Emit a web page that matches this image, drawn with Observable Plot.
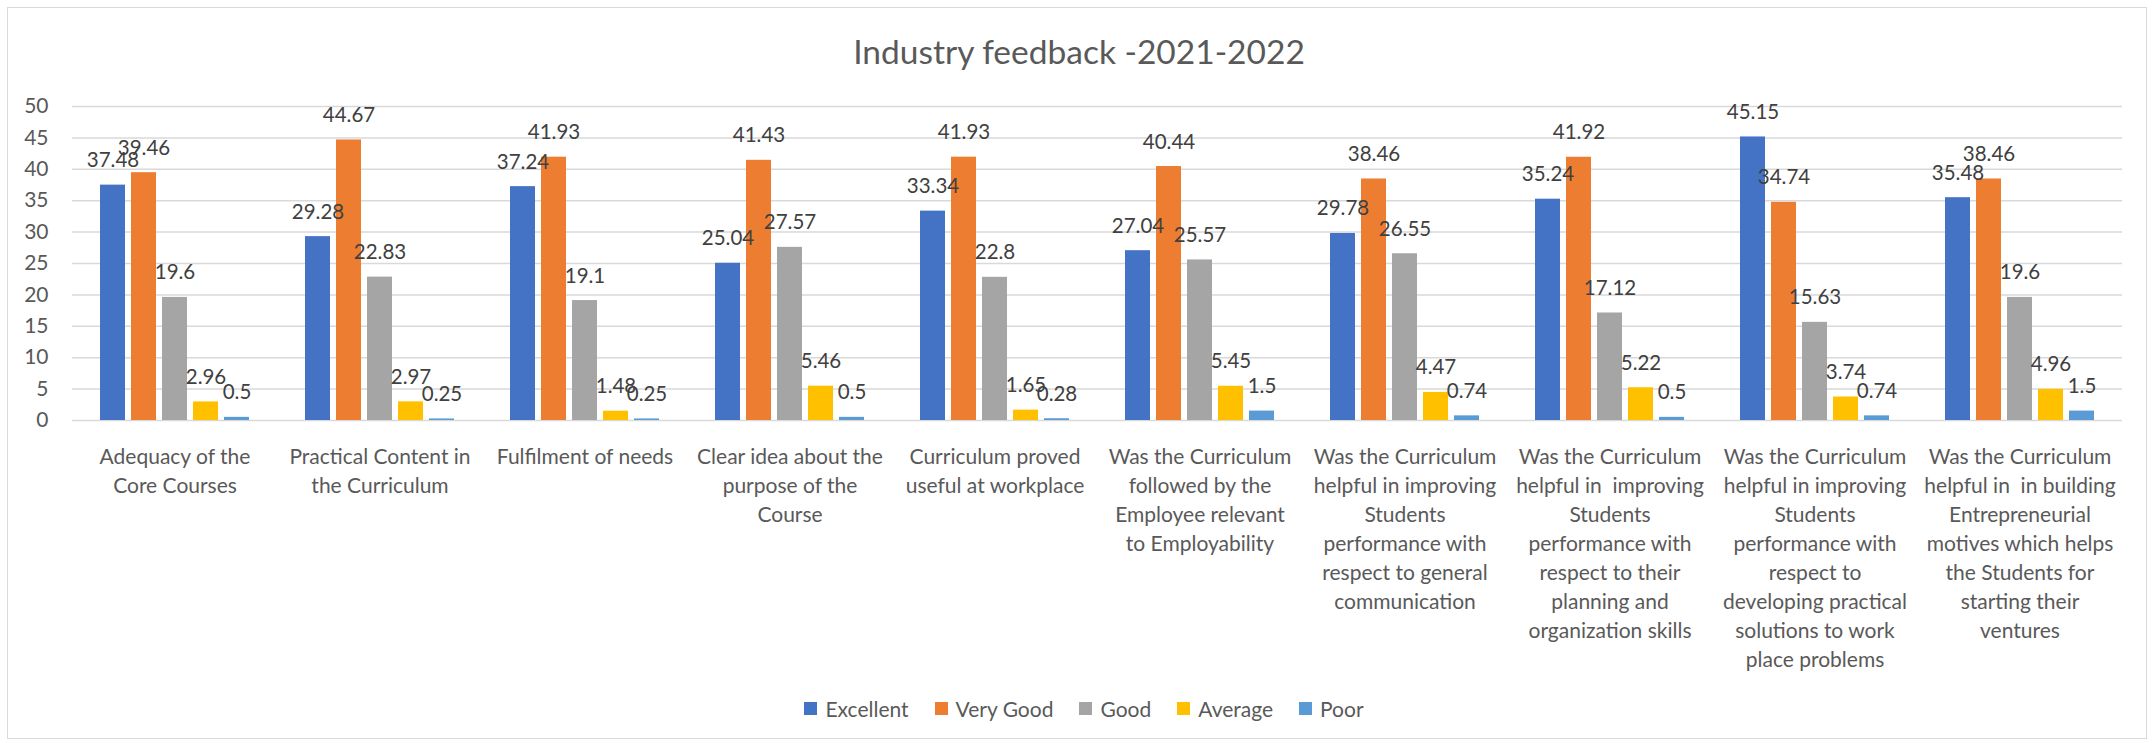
<!DOCTYPE html>
<html>
<head>
<meta charset="utf-8">
<script src="https://cdn.jsdelivr.net/npm/d3@7"></script>
<script src="https://cdn.jsdelivr.net/npm/@observablehq/plot@0.6"></script>
<style>
  html, body { margin: 0; padding: 0; background: #fff; }
  body { width: 2154px; height: 743px; position: relative; overflow: hidden; font-family: Lato, "Open Sans", sans-serif; }
  #frame { position: absolute; left: 7px; top: 7px; width: 2140px; height: 732px; box-sizing: border-box; border: 1.5px solid #d9d9d9; }
  #title { position: absolute; left: 0; top: 31px; width: 2158px; height: 40px; line-height: 40px; text-align: center; font-size: 33.5px; color: #595959; white-space: nowrap; }
  #chart { position: absolute; left: 0; top: 80px; }
  #legend { position: absolute; left: 0; top: 696px; width: 2168px; display: flex; justify-content: center; align-items: center; font-size: 21px; color: #595959; }
  .item { display: flex; align-items: center; margin: 0 13px; }
  .sw { width: 13px; height: 13px; margin-right: 8px; }
</style>
</head>
<body>
<div id="frame"></div>
<div id="title">Industry feedback -2021-2022</div>
<div id="chart"></div>
<div id="legend"></div>
<script>
// ---- data ----
const categories = [
  "Adequacy of the Core Courses",
  "Practical Content in the Curriculum",
  "Fulfilment of needs",
  "Clear idea about the purpose of the Course",
  "Curriculum proved useful at workplace",
  "Was the Curriculum followed by the Employee relevant to Employability",
  "Was the Curriculum helpful in improving Students performance with respect to general communication",
  "Was the Curriculum helpful in  improving Students performance with respect to their planning and organization skills",
  "Was the Curriculum helpful in improving Students performance with respect to developing practical solutions to work place problems",
  "Was the Curriculum helpful in  in building Entrepreneurial motives which helps the Students for starting their ventures"
];
const categoryLabels = [
  "Adequacy of the\nCore Courses",
  "Practical Content in\nthe Curriculum",
  "Fulfilment of needs",
  "Clear idea about the\npurpose of the\nCourse",
  "Curriculum proved\nuseful at workplace",
  "Was the Curriculum\nfollowed by the\nEmployee relevant\nto Employability",
  "Was the Curriculum\nhelpful in improving\nStudents\nperformance with\nrespect to general\ncommunication",
  "Was the Curriculum\nhelpful in  improving\nStudents\nperformance with\nrespect to their\nplanning and\norganization skills",
  "Was the Curriculum\nhelpful in improving\nStudents\nperformance with\nrespect to\ndeveloping practical\nsolutions to work\nplace problems",
  "Was the Curriculum\nhelpful in  in building\nEntrepreneurial\nmotives which helps\nthe Students for\nstarting their\nventures"
];
const series = ["Excellent", "Very Good", "Good", "Average", "Poor"];
const colors = ["#4472C4", "#ED7D31", "#A5A5A5", "#FFC000", "#5B9BD5"];
const excellent = [37.48, 29.28, 37.24, 25.04, 33.34, 27.04, 29.78, 35.24, 45.15, 35.48];
const veryGood  = [39.46, 44.67, 41.93, 41.43, 41.93, 40.44, 38.46, 41.92, 34.74, 38.46];
const good      = [19.6, 22.83, 19.1, 27.57, 22.8, 25.57, 26.55, 17.12, 15.63, 19.6];
const average   = [2.96, 2.97, 1.48, 5.46, 1.65, 5.45, 4.47, 5.22, 3.74, 4.96];
const poor      = [0.5, 0.25, 0.25, 0.5, 0.28, 1.5, 0.74, 0.5, 0.74, 1.5];
const yTicks = [0, 5, 10, 15, 20, 25, 30, 35, 40, 45, 50];

// ---- build table ----
const seriesValues = [excellent, veryGood, good, average, poor];
const rows = [];
categories.forEach((c, i) => {
  series.forEach((s, j) => rows.push({cat: c, series: s, value: seriesValues[j][i]}));
});
const labelOf = new Map(categories.map((c, i) => [c, categoryLabels[i]]));

const chart = Plot.plot({
  width: 2154,
  height: 590,
  marginTop: 26,
  marginBottom: 250,
  marginLeft: 72,
  marginRight: 32,
  style: {fontFamily: "Lato, 'Open Sans', sans-serif", background: "transparent", overflow: "visible"},
  fx: {domain: categories, padding: 0, label: null},
  x: {domain: series, paddingInner: 0.206, paddingOuter: 0.857, axis: null},
  y: {domain: [0, 50], label: null},
  color: {domain: series, range: colors},
  marks: [
    Plot.gridY(yTicks, {stroke: "#d9d9d9", strokeOpacity: 1, strokeWidth: 1.5}),
    Plot.axisY(yTicks, {tickSize: 0, tickPadding: 24, fontSize: 21, fill: "#595959", label: null}),
    Plot.axisFx({anchor: "bottom", tickSize: 0, tickPadding: 23, fontSize: 21, lineHeight: 1.38, fill: "#595959", label: null, tickFormat: d => labelOf.get(d)}),
    Plot.barY(rows, {fx: "cat", x: "series", y: "value", fill: "series"}),
    Plot.text(rows, {fx: "cat", x: "series", y: "value", text: d => String(d.value), dy: -18, lineAnchor: "bottom", fontSize: 20.5, fill: "#404040"})
  ]
});
document.getElementById("chart").appendChild(chart);

// ---- legend ----
const legend = document.getElementById("legend");
series.forEach((s, i) => {
  const item = document.createElement("div");
  item.className = "item";
  const sw = document.createElement("div");
  sw.className = "sw";
  sw.style.background = colors[i];
  const t = document.createElement("span");
  t.textContent = s;
  item.appendChild(sw);
  item.appendChild(t);
  legend.appendChild(item);
});
</script>
</body>
</html>
